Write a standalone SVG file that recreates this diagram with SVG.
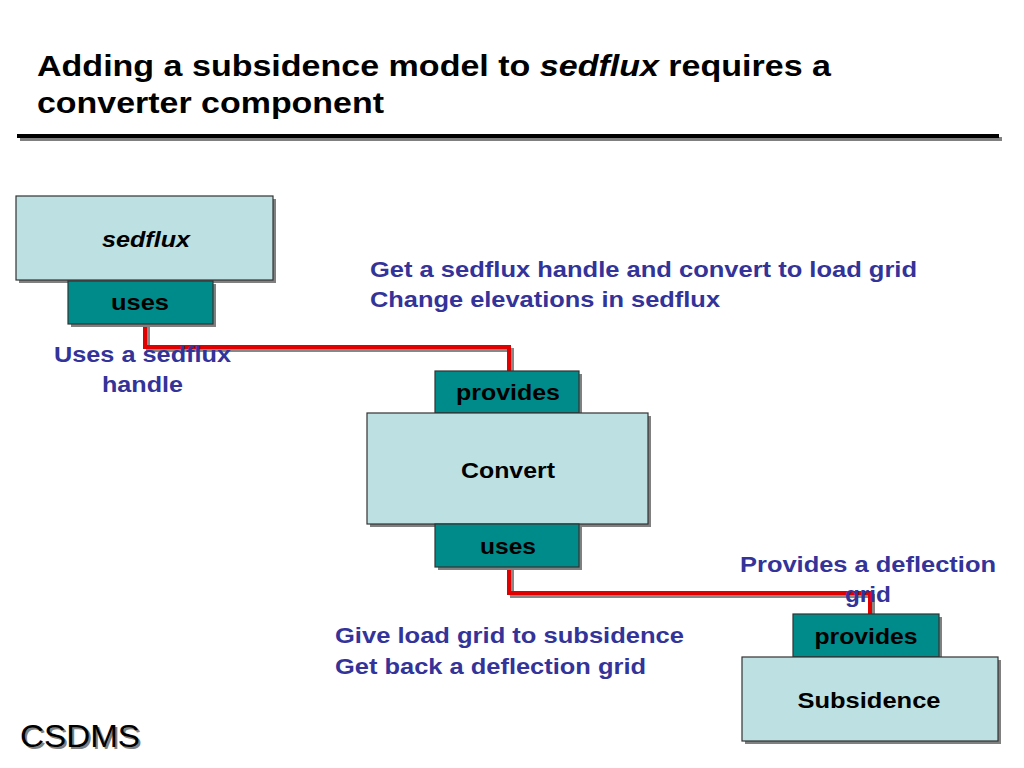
<svg xmlns="http://www.w3.org/2000/svg" width="1024" height="768" viewBox="0 0 1024 768">
<style>
.box{fill:#bde0e3;stroke:#333;stroke-width:1.2}
.tab{fill:#008b8b;stroke:#333;stroke-width:1.2}
.sh{fill:#808080}
.t{font-family:"Liberation Sans",Arial,sans-serif;font-weight:bold;font-size:22px;fill:#000;text-anchor:middle}
.b{font-family:"Liberation Sans",Arial,sans-serif;font-weight:bold;font-size:22px;fill:#333399}
.h{font-family:"Liberation Sans",Arial,sans-serif;font-weight:bold;font-size:30px;fill:#000}
.wire{fill:none;stroke:#e00000;stroke-width:4}
.wsh{fill:none;stroke:#888;stroke-width:4}
</style>
<rect width="1024" height="768" fill="#fff"/>
<g id="title">
<text class="h" x="37" y="76" textLength="794" lengthAdjust="spacingAndGlyphs">Adding a subsidence model to <tspan font-style="italic">sedflux</tspan> requires a</text>
<text class="h" x="37" y="113" textLength="347" lengthAdjust="spacingAndGlyphs">converter component</text>
<rect x="20" y="137" width="982" height="4" fill="#808080"/>
<rect x="17" y="134" width="982" height="4" fill="#000"/>
</g>
<g id="connectors">
<path class="wsh" d="M148,327 V350 H512 V372"/>
<path class="wire" d="M145,325 V347 H509 V371"/>
<path class="wsh" d="M512,569 V596 H873 V615"/>
<path class="wire" d="M509,567 V593 H870 V614"/>
</g>
<g id="sedflux">
<rect class="sh" x="19" y="199" width="257" height="84"/>
<rect class="box" x="16" y="196" width="257" height="84"/>
<text class="t" x="146" y="247" font-style="italic" textLength="88" lengthAdjust="spacingAndGlyphs">sedflux</text>
</g>
<g id="sedflux-uses">
<rect class="sh" x="71" y="284" width="145" height="43"/>
<rect class="tab" x="68" y="281" width="145" height="43"/>
<text class="t" x="140" y="310" textLength="58" lengthAdjust="spacingAndGlyphs">uses</text>
</g>
<g id="convert-provides">
<rect class="sh" x="438" y="374" width="144" height="42"/>
<rect class="tab" x="435" y="371" width="144" height="42"/>
<text class="t" x="508" y="400" textLength="104" lengthAdjust="spacingAndGlyphs">provides</text>
</g>
<g id="convert">
<rect class="sh" x="370" y="416" width="281" height="111"/>
<rect class="box" x="367" y="413" width="281" height="111"/>
<text class="t" x="508" y="478" textLength="94" lengthAdjust="spacingAndGlyphs">Convert</text>
</g>
<g id="convert-uses">
<rect class="sh" x="438" y="527" width="144" height="43"/>
<rect class="tab" x="435" y="524" width="144" height="43"/>
<text class="t" x="508" y="554" textLength="56" lengthAdjust="spacingAndGlyphs">uses</text>
</g>
<g id="subsidence-provides">
<rect class="sh" x="796" y="617" width="146" height="43"/>
<rect class="tab" x="793" y="614" width="146" height="43"/>
<text class="t" x="866" y="644" textLength="103" lengthAdjust="spacingAndGlyphs">provides</text>
</g>
<g id="subsidence">
<rect class="sh" x="745" y="660" width="256" height="84"/>
<rect class="box" x="742" y="657" width="256" height="84"/>
<text class="t" x="869" y="708" textLength="143" lengthAdjust="spacingAndGlyphs">Subsidence</text>
</g>
<g id="labels">
<text class="b" x="370" y="277" textLength="547" lengthAdjust="spacingAndGlyphs">Get a sedflux handle and convert to load grid</text>
<text class="b" x="370" y="307" textLength="350" lengthAdjust="spacingAndGlyphs">Change elevations in sedflux</text>
<text class="b" x="54" y="362" textLength="177" lengthAdjust="spacingAndGlyphs">Uses a sedflux</text>
<text class="b" x="102" y="392" textLength="81" lengthAdjust="spacingAndGlyphs">handle</text>
<text class="b" x="740" y="572" textLength="256" lengthAdjust="spacingAndGlyphs">Provides a deflection</text>
<text class="b" x="845" y="602" textLength="46" lengthAdjust="spacingAndGlyphs">grid</text>
<text class="b" x="335" y="643" textLength="349" lengthAdjust="spacingAndGlyphs">Give load grid to subsidence</text>
<text class="b" x="335" y="674" textLength="311" lengthAdjust="spacingAndGlyphs">Get back a deflection grid</text>
</g>
<g id="logo">
<text x="22" y="749" font-family="Liberation Sans,Arial,sans-serif" font-size="31" fill="#808080" textLength="120" lengthAdjust="spacingAndGlyphs">CSDMS</text>
<text x="20" y="747" font-family="Liberation Sans,Arial,sans-serif" font-size="31" fill="#000" textLength="120" lengthAdjust="spacingAndGlyphs">CSDMS</text>
</g>
</svg>
